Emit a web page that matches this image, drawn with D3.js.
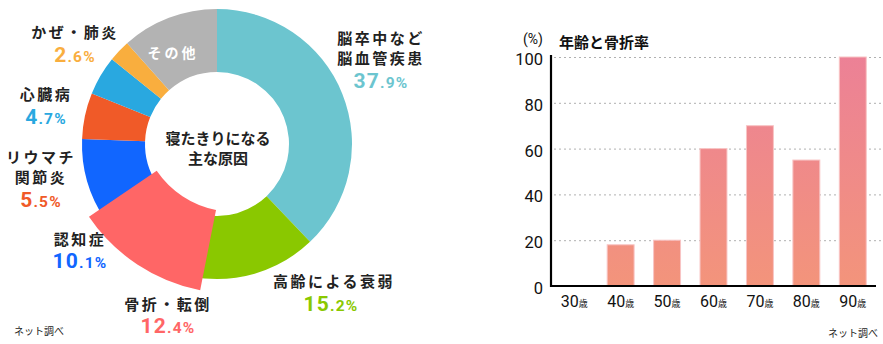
<!DOCTYPE html>
<html lang="ja">
<head>
<meta charset="utf-8">
<script src="https://cdn.jsdelivr.net/npm/d3@7"></script>
<style>
  html, body { margin: 0; padding: 0; background: #fff; }
  svg { display: block; }
  .jp { font-family: "Noto Sans CJK JP", "Noto Sans", sans-serif; }
  .num { font-family: Roboto, "Noto Sans", sans-serif; }
</style>
</head>
<body>
<svg id="chart" width="883" height="344"></svg>
<script>
// ---- Donut: main causes of becoming bedridden (%) ----
const causeNames  = ["脳卒中など\n脳血管疾患", "高齢による衰弱", "骨折・転倒", "認知症", "リウマチ\n関節炎", "心臓病", "かぜ・肺炎", "その他"];
const causeValues = [37.9, 15.2, 12.4, 10.1, 5.5, 4.7, 2.6, 11.6];
const causeColors = ["#6cc5cf", "#8ac800", "#ff6666", "#1166ff", "#f05a28", "#29a8e0", "#f9ae3e", "#b3b3b3"];
const highlightCause = "骨折・転倒";

// ---- Bars: fracture rate by age (%) ----
const ageGroups  = ["30", "40", "50", "60", "70", "80", "90"];
const fractureRate = [0, 18, 20, 60, 70, 55, 100];
const rateTicks  = [0, 20, 40, 60, 80, 100];

const svg = d3.select("#chart");

// ================= donut =================
const cx = 217, cy = 144, rIn = 72, rOut = 135;
const pie = d3.pie().sort(null).value(d => d.v).startAngle(0).endAngle(2 * Math.PI);
const arcs = pie(causeNames.map((n, i) => ({ n, v: causeValues[i], c: causeColors[i] })));
const arc = d3.arc().innerRadius(rIn).outerRadius(rOut);

const donut = svg.append("g").attr("transform", `translate(${cx},${cy})`);
donut.selectAll("path.slice")
  .data(arcs.filter(a => a.data.n !== highlightCause))
  .join("path")
  .attr("class", "slice")
  .attr("d", arc)
  .attr("fill", d => d.data.c);

// emphasised slice: enlarged about its own centroid
const hi = arcs.find(a => a.data.n === highlightCause);
const [hx, hy] = arc.centroid(hi);
const k = 1.3;
donut.append("path")
  .attr("d", arc(hi))
  .attr("fill", hi.data.c)
  .attr("transform", `translate(${hx},${hy}) scale(${k}) translate(${-hx},${-hy})`);

// center caption
const center = svg.append("g").attr("class", "jp")
  .attr("text-anchor", "middle").attr("font-weight", 700).attr("font-size", 15).attr("fill", "#222");
["寝たきりになる", "主な原因"].forEach((s, j) => {
  center.append("text").attr("x", cx + 1).attr("y", 137 + j * 20)
    .attr("dominant-baseline", "central").text(s);
});

// label layout (first name line center, value baseline)
const labelLayout = [
  { x: 380, y: 37,  vx: 381, vy: 88 },
  { x: 333, y: 280, vx: 331, vy: 311 },
  { x: 167, y: 303, vx: 168, vy: 333 },
  { x: 79,  y: 238, vx: 80,  vy: 268 },
  { x: 40,  y: 156, vx: 41,  vy: 207 },
  { x: 45,  y: 93,  vx: 46,  vy: 124 },
  { x: 74,  y: 31,  vx: 75,  vy: 62 },
  { x: 172, y: 52 }
];

arcs.forEach((a, i) => {
  const L = labelLayout[i];
  const isOther = a.data.n === "その他";
  const lines = a.data.n.split("\n");
  const g = svg.append("g").attr("class", "jp")
    .attr("text-anchor", "middle").attr("font-weight", 700)
    .attr("font-size", isOther ? 14 : 15)
    .attr("letter-spacing", isOther ? 3 : 2.5)
    .attr("fill", isOther ? "#fff" : "#222");
  lines.forEach((ln, j) => {
    g.append("text").attr("x", L.x + 1).attr("y", L.y + j * 20)
      .attr("dominant-baseline", "central").text(ln);
  });
  if (isOther) return;
  const [ip, fp] = a.data.v.toFixed(1).split(".");
  const v = svg.append("text").attr("class", "num")
    .attr("text-anchor", "middle").attr("font-weight", 700)
    .attr("letter-spacing", 1.2)
    .attr("x", L.vx).attr("y", L.vy).attr("fill", a.data.c);
  v.append("tspan").attr("font-size", 21).text(ip);
  v.append("tspan").attr("font-size", 15.5).text("." + fp + "%");
});

svg.append("text").attr("class", "jp").attr("x", 14).attr("y", 330)
  .attr("dominant-baseline", "central").attr("font-size", 10).attr("fill", "#222").text("ネット調べ");

// ================= bar chart =================
const x0 = 551, x1 = 876, yTop = 57, yBot = 286;
const x = d3.scaleBand().domain(ageGroups).range([x0, x1]).paddingInner(0.42).paddingOuter(0.21);
const y = d3.scaleLinear().domain([0, 100]).range([yBot, yTop]);

const defs = svg.append("defs");
const grad = defs.append("linearGradient").attr("id", "barGrad")
  .attr("gradientUnits", "userSpaceOnUse")
  .attr("x1", 0).attr("x2", 0).attr("y1", y(100)).attr("y2", y(0));
grad.append("stop").attr("offset", "0%").attr("stop-color", "#ec8196");
grad.append("stop").attr("offset", "100%").attr("stop-color", "#f3947b");

// dotted gridlines
svg.append("g").selectAll("line")
  .data(rateTicks.filter(t => t > 0))
  .join("line")
  .attr("x1", x0 + 3).attr("x2", 881)
  .attr("y1", d => y(d) + 0.5).attr("y2", d => y(d) + 0.5)
  .attr("stroke", "#b0b0b0").attr("stroke-width", 1).attr("stroke-dasharray", "2,3");

// bars
svg.append("g").selectAll("rect")
  .data(ageGroups.map((g, i) => ({ g, v: fractureRate[i] })).filter(d => d.v > 0))
  .join("rect")
  .attr("x", d => x(d.g))
  .attr("width", x.bandwidth())
  .attr("y", d => y(d.v))
  .attr("height", d => y(0) - y(d.v))
  .attr("fill", "url(#barGrad)")
  .attr("stroke", "#f8c4c4").attr("stroke-width", 1);

// y axis
const yAxis = svg.append("g").attr("transform", `translate(${x0},0)`)
  .call(d3.axisLeft(y).tickValues(rateTicks).tickSize(0).tickPadding(8));
yAxis.select(".domain").remove();
yAxis.selectAll("text").attr("class", "num").attr("font-size", 16.5).attr("fill", "#111")
  .attr("dy", "0.45em");
svg.append("line").attr("x1", x0).attr("x2", x0).attr("y1", yTop - 2).attr("y2", yBot + 1)
  .attr("stroke", "#000").attr("stroke-width", 2.2);

// x axis
const xAxis = svg.append("g").attr("transform", `translate(0,${yBot})`)
  .call(d3.axisBottom(x).tickSize(0).tickPadding(14).tickFormat(""));
xAxis.select(".domain").remove();
svg.append("line").attr("x1", x0 - 1).attr("x2", x1).attr("y1", yBot).attr("y2", yBot)
  .attr("stroke", "#000").attr("stroke-width", 2.2);
xAxis.selectAll(".tick").append("text")
  .attr("class", "num").attr("text-anchor", "middle").attr("y", 21).attr("fill", "#111")
  .each(function (d) {
    const t = d3.select(this);
    t.append("tspan").attr("font-size", 16).text(d);
    t.append("tspan").attr("class", "jp").attr("font-size", 9).text("歳");
  });

// titles
svg.append("text").attr("class", "num").attr("x", 533).attr("y", 44)
  .attr("text-anchor", "middle")
  .attr("font-size", 14).attr("fill", "#111").text("(%)");
svg.append("text").attr("class", "jp").attr("x", 559).attr("y", 41)
  .attr("dominant-baseline", "central").attr("font-weight", 700)
  .attr("font-size", 15).attr("fill", "#111").text("年齢と骨折率");

svg.append("text").attr("class", "jp").attr("x", 878).attr("y", 332)
  .attr("text-anchor", "end").attr("dominant-baseline", "central")
  .attr("font-size", 10).attr("fill", "#222").text("ネット調べ");
</script>
</body>
</html>
